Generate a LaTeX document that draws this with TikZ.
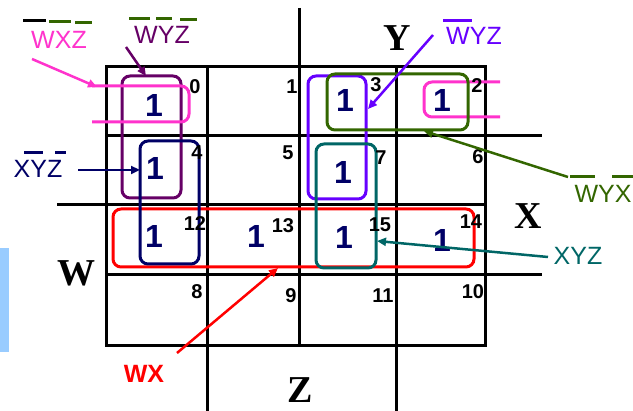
\documentclass[tikz,border=0pt]{standalone}
\usepackage{fontspec}
\setmainfont{Liberation Sans}
\newfontfamily\serifb{Liberation Serif}
\usetikzlibrary{arrows.meta}
\definecolor{pinkc}{HTML}{FF33CC}
\definecolor{purplec}{HTML}{660066}
\definecolor{navyc}{HTML}{000066}
\definecolor{violetc}{HTML}{6600FF}
\definecolor{greenc}{HTML}{336600}
\definecolor{tealc}{HTML}{006666}
\definecolor{redc}{HTML}{FF0000}
\definecolor{lightbluec}{HTML}{99CCFF}
\begin{document}
\begin{tikzpicture}[x=1pt,y=-1pt,
  gridline/.style={line width=3pt, black},
  loopbox/.style={rectangle, rounded corners=8pt, line width=3pt, inner sep=0pt},
  one/.style={font=\fontsize{32}{32}\selectfont\bfseries, text=navyc, inner sep=0pt},
  cellnum/.style={font=\fontsize{20}{20}\selectfont\bfseries, inner sep=0pt},
  axislbl/.style={font=\serifb\fontsize{38}{38}\selectfont\bfseries, inner sep=0pt},
  lbl/.style={font=\fontsize{25}{25}\selectfont, inner sep=0pt},
  bar/.style={line width=3pt},
  arr/.style={line width=2.5pt, -{Triangle[length=9pt,width=8pt]}}
]
\useasboundingbox (0,0) rectangle (633,411);
% side bar
\fill[lightbluec] (0,248) rectangle (9,352);
% grid
\draw[gridline] (106,67) rectangle (485,346);
\draw[gridline] (299,8) -- (299,346);
\draw[gridline] (207,67) -- (207,411);
\draw[gridline] (396,67) -- (396,411);
\draw[gridline] (106,136) -- (542,136);
\draw[gridline] (106,275) -- (542,275);
\draw[gridline] (57,205) -- (485,205);
% axis letters
\node[axislbl] (labY) at (397,38) {Y};
\node[axislbl] (labX) at (528,216) {X};
\node[axislbl] (labW) at (76,273) {W};
\node[axislbl] (labZ) at (300,390) {Z};
% loops
\node[loopbox, draw=redc, minimum width=361pt, minimum height=58pt] (lred) at (293.5,238) {};
\node[loopbox, draw=purplec, minimum width=59pt, minimum height=122pt] (lpurple) at (151.5,137) {};
\draw[pinkc, line width=3pt, rounded corners=8pt] (92,86) -| (189,122) -- (92,122);
\draw[pinkc, line width=3pt, rounded corners=8pt] (500,82) -| (424,117) -- (500,117);
\node[loopbox, draw=navyc, minimum width=59pt, minimum height=123pt] (lnavy) at (169.5,202.5) {};
\node[loopbox, draw=violetc, minimum width=58pt, minimum height=123pt] (lviolet) at (337,137.5) {};
\node[loopbox, draw=greenc, minimum width=141pt, minimum height=56pt] (lgreen) at (397.5,102) {};
\node[loopbox, draw=tealc, minimum width=60pt, minimum height=124pt] (lteal) at (346,206) {};
% cell numbers
\node[cellnum] (n0) at (195,87) {0};
\node[cellnum] (n1) at (292,87) {1};
\node[cellnum] (n3) at (376,85) {3};
\node[cellnum] (n2) at (477,86) {2};
\node[cellnum] (n4) at (197,153) {4};
\node[cellnum] (n5) at (288,153) {5};
\node[cellnum] (n7) at (381,158) {7};
\node[cellnum] (n6) at (478,157) {6};
\node[cellnum] (n12) at (195,224) {12};
\node[cellnum] (n13) at (283,226) {13};
\node[cellnum] (n15) at (380,225) {15};
\node[cellnum] (n14) at (471,222) {14};
\node[cellnum] (n8) at (197,292) {8};
\node[cellnum] (n9) at (291,296) {9};
\node[cellnum] (n11) at (383,296) {11};
\node[cellnum] (n10) at (473,292) {10};
% ones
\node[one] (o0) at (154,105) {1};
\node[one] (o3) at (345,100) {1};
\node[one] (o2) at (442,100) {1};
\node[one] (o4) at (155,168) {1};
\node[one] (o7) at (343,172) {1};
\node[one] (o12) at (154,236) {1};
\node[one] (o13) at (256,236) {1};
\node[one] (o15) at (344,237) {1};
\node[one] (o14) at (442,240) {1};
% labels
\node[lbl, text=pinkc] (tWXZ) at (59,40) {WXZ};
\draw[bar, black] (23,21) -- (46,21);
\draw[bar, greenc] (49,22) -- (71,22);
\draw[bar, greenc] (75,23) -- (92,23);
\node[lbl, text=purplec] (tWYZa) at (162,35) {WYZ};
\draw[bar, greenc] (129,19) -- (150,19);
\draw[bar, greenc] (156,19) -- (172,19);
\draw[bar, greenc] (180,20) -- (197,20);
\node[lbl, text=violetc] (tWYZb) at (474,36) {WYZ};
\draw[bar, violetc] (443,21) -- (472,21);
\node[lbl, text=navyc] (tXYZa) at (38,169) {XYZ};
\draw[bar, navyc] (24,153) -- (43,153);
\draw[bar, navyc] (55,153) -- (66,153);
\node[lbl, text=greenc] (tWYX) at (603,194) {WYX};
\draw[bar, greenc] (570,177) -- (595,177);
\draw[bar, greenc] (612,177) -- (633,177);
\node[lbl, text=tealc] (tXYZb) at (578,256) {XYZ};
\node[lbl, text=redc, font=\fontsize{25}{25}\selectfont\bfseries] (tWX) at (144,374) {WX};
% arrow coordinates
\coordinate (pinkS) at (32,59);
\coordinate (pinkT) at (97,87);
\coordinate (purpS) at (126,47);
\coordinate (purpT) at (146,76);
\coordinate (violS) at (433,35);
\coordinate (violT) at (368,109);
\coordinate (navyS) at (78,170);
\coordinate (navyT) at (140,170);
\coordinate (grnS) at (568,177);
\coordinate (grnT) at (424,131);
\coordinate (tealS) at (548,257);
\coordinate (tealT) at (377,241);
\coordinate (redS) at (177,353);
\coordinate (redT) at (278,268);
% arrows
\draw[arr, pinkc] (pinkS) -- (pinkT);
\draw[arr, purplec] (purpS) -- (purpT);
\draw[arr, violetc] (violS) -- (violT);
\draw[arr, navyc] (navyS) -- (navyT);
\draw[arr, greenc] (grnS) -- (grnT);
\draw[arr, tealc] (tealS) -- (tealT);
\draw[arr, redc] (redS) -- (redT);
\end{tikzpicture}
\end{document}
